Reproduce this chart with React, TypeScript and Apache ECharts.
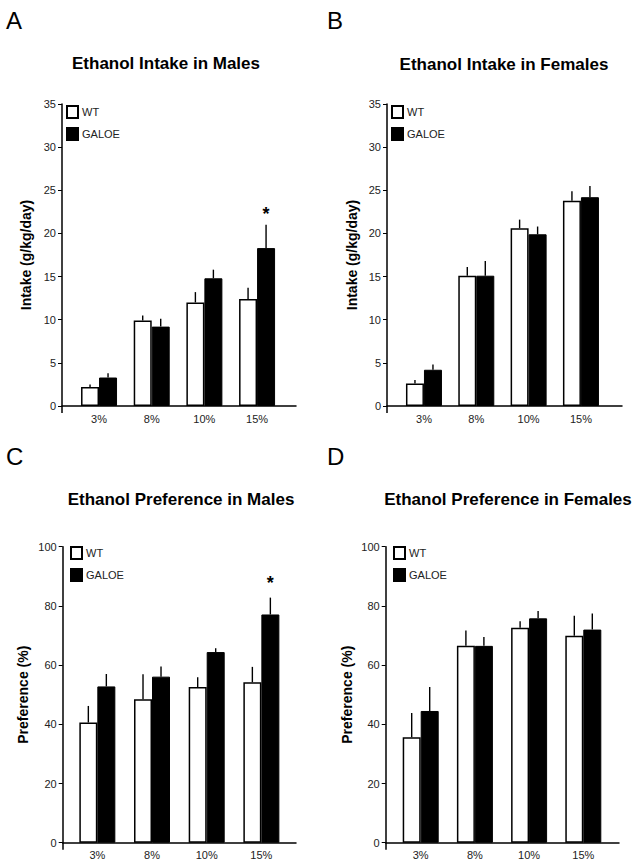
import React, { useEffect, useRef } from 'react';
import * as echarts from 'echarts';

// ---------- data ----------
const categories = ['3%', '8%', '10%', '15%'];
const seriesNames = ['WT', 'GALOE'];

// A: Ethanol Intake in Males (g/kg/day)
const intakeMalesWT = [2.2, 9.9, 12.0, 12.4];
const intakeMalesWTSem = [0.3, 0.6, 1.2, 1.3];
const intakeMalesGALOE = [3.3, 9.2, 14.8, 18.3];
const intakeMalesGALOESem = [0.5, 0.9, 1.0, 2.7];
const intakeMalesSig = ['', '', '', '*'];

// B: Ethanol Intake in Females (g/kg/day)
const intakeFemalesWT = [2.6, 15.1, 20.6, 23.8];
const intakeFemalesWTSem = [0.4, 1.0, 1.0, 1.1];
const intakeFemalesGALOE = [4.2, 15.1, 19.9, 24.2];
const intakeFemalesGALOESem = [0.6, 1.7, 0.9, 1.3];
const intakeFemalesSig = ['', '', '', ''];

// C: Ethanol Preference in Males (%)
const prefMalesWT = [40.6, 48.5, 52.6, 54.2];
const prefMalesWTSem = [5.6, 8.4, 3.3, 5.2];
const prefMalesGALOE = [52.8, 56.1, 64.4, 77.1];
const prefMalesGALOESem = [4.2, 3.4, 1.3, 5.7];
const prefMalesSig = ['', '', '', '*'];

// D: Ethanol Preference in Females (%)
const prefFemalesWT = [35.6, 66.5, 72.6, 69.9];
const prefFemalesWTSem = [8.2, 5.2, 2.2, 6.8];
const prefFemalesGALOE = [44.5, 66.5, 75.8, 72.0];
const prefFemalesGALOESem = [8.1, 3.0, 2.5, 5.4];
const prefFemalesSig = ['', '', '', ''];

const intakeTicks = { min: 0, max: 35, interval: 5 };
const prefTicks = { min: 0, max: 100, interval: 20 };

// ---------- layout / style ----------
const FONT = "'Liberation Sans', Arial, Helvetica, sans-serif";
const BAR_W = 18;

const panels = [
  {
    letter: 'A', title: 'Ethanol Intake in Males', yName: 'Intake (g/kg/day)', ticks: intakeTicks,
    wt: intakeMalesWT, wtSem: intakeMalesWTSem, ga: intakeMalesGALOE, gaSem: intakeMalesGALOESem, sig: intakeMalesSig,
    L: { letterX: 6, letterY: 20.5, titleX: 166, titleY: 63.5, axisX: 62, axisEnd: 296, top: 104, bottom: 406, barLeft: 72.7, barW: 210.7, nameGap: 29, legendX: 66, legendY: 105, sigGap: 11 },
  },
  {
    letter: 'B', title: 'Ethanol Intake in Females', yName: 'Intake (g/kg/day)', ticks: intakeTicks,
    wt: intakeFemalesWT, wtSem: intakeFemalesWTSem, ga: intakeFemalesGALOE, gaSem: intakeFemalesGALOESem, sig: intakeFemalesSig,
    L: { letterX: 327, letterY: 20.5, titleX: 504, titleY: 64, axisX: 387, axisEnd: 622, top: 104, bottom: 406, barLeft: 397.8, barW: 209.3, nameGap: 28, legendX: 391, legendY: 105, sigGap: 11 },
  },
  {
    letter: 'C', title: 'Ethanol Preference in Males', yName: 'Preference (%)', ticks: prefTicks,
    wt: prefMalesWT, wtSem: prefMalesWTSem, ga: prefMalesGALOE, gaSem: prefMalesGALOESem, sig: prefMalesSig,
    L: { letterX: 6, letterY: 456, titleX: 181, titleY: 499, axisX: 62.7, axisEnd: 296, top: 546.7, bottom: 842.7, barLeft: 70, barW: 218.7, nameGap: 32.7, legendX: 70, legendY: 546, sigGap: 15 },
  },
  {
    letter: 'D', title: 'Ethanol Preference in Females', yName: 'Preference (%)', ticks: prefTicks,
    wt: prefFemalesWT, wtSem: prefFemalesWTSem, ga: prefFemalesGALOE, gaSem: prefFemalesGALOESem, sig: prefFemalesSig,
    L: { letterX: 327, letterY: 456, titleX: 508, titleY: 499, axisX: 385.7, axisEnd: 619, top: 546.7, bottom: 842.7, barLeft: 393.6, barW: 216.8, nameGap: 31.7, legendX: 393, legendY: 546, sigGap: 15 },
  },
];

function errRender(sign: number) {
  return (params: any, api: any) => {
    const base = api.coord([api.value(0), api.value(1)]);
    const tip = api.coord([api.value(0), api.value(2)]);
    const x = base[0] + (sign * BAR_W) / 2;
    return {
      type: 'line',
      shape: { x1: x, y1: base[1], x2: x, y2: tip[1] },
      style: { stroke: '#000', lineWidth: 1.4 },
    };
  };
}

function sigRender(gap: number) {
  return (params: any, api: any) => {
    const p = api.coord([api.value(0), api.value(1)]);
    return {
      type: 'text',
      x: p[0] + BAR_W / 2,
      y: p[1] - gap,
      style: {
        text: '*',
        font: `bold 18px ${FONT}`,
        fill: '#000',
        textAlign: 'center',
        textVerticalAlign: 'middle',
      },
    };
  };
}

function buildOption() {
  const grid: any[] = [];
  const xAxis: any[] = [];
  const yAxis: any[] = [];
  const series: any[] = [];
  const legend: any[] = [];
  const graphic: any[] = [];
  const n = panels.length;

  panels.forEach((p, i) => {
    const L = p.L;
    const h = L.bottom - L.top;
    grid[i] = { left: L.barLeft, top: L.top, width: L.barW, height: h };
    grid[n + i] = { left: L.axisX, top: L.top, width: L.axisEnd - L.axisX, height: h };

    xAxis[i] = {
      type: 'category', gridIndex: i, data: categories,
      axisLine: { show: false }, axisTick: { show: false },
      axisLabel: { fontFamily: FONT, fontSize: 11, color: '#222', margin: 7 },
    };
    xAxis[n + i] = {
      type: 'value', gridIndex: n + i, min: 0, max: 1, z: 10,
      axisLine: { show: true, lineStyle: { color: '#000', width: 1.5 } },
      axisTick: { show: true, customValues: [0], length: 7, lineStyle: { color: '#000', width: 1.5 } },
      axisLabel: { show: false }, splitLine: { show: false },
    };
    yAxis[i] = {
      type: 'value', gridIndex: i, min: p.ticks.min, max: p.ticks.max, interval: p.ticks.interval, show: false,
    };
    yAxis[n + i] = {
      type: 'value', gridIndex: n + i, min: p.ticks.min, max: p.ticks.max, interval: p.ticks.interval, z: 10,
      name: p.yName, nameLocation: 'middle', nameGap: L.nameGap,
      nameTextStyle: { fontFamily: FONT, fontSize: 14, fontWeight: 'bold', color: '#000' },
      axisLine: { show: true, lineStyle: { color: '#000', width: 1.5 } },
      axisTick: { show: true, length: 4, lineStyle: { color: '#000', width: 1 } },
      axisLabel: { fontFamily: FONT, fontSize: 11, color: '#222', margin: 6 },
      splitLine: { show: false },
    };

    series.push({
      name: seriesNames[0], type: 'bar', xAxisIndex: i, yAxisIndex: i, barWidth: BAR_W, barGap: '0%',
      itemStyle: { color: '#fff', borderColor: '#000', borderWidth: 1.5 },
      data: p.wt,
    });
    series.push({
      name: seriesNames[1], type: 'bar', xAxisIndex: i, yAxisIndex: i, barWidth: BAR_W, barGap: '0%',
      itemStyle: { color: '#000', borderColor: '#000', borderWidth: 1 },
      data: p.ga,
    });
    series.push({
      name: 'WT SEM', type: 'custom', xAxisIndex: i, yAxisIndex: i, z: 3,
      renderItem: errRender(-1),
      data: p.wt.map((v, k) => [k, v, v + p.wtSem[k]]),
    });
    series.push({
      name: 'GALOE SEM', type: 'custom', xAxisIndex: i, yAxisIndex: i, z: 3,
      renderItem: errRender(1),
      data: p.ga.map((v, k) => [k, v, v + p.gaSem[k]]),
    });
    const sigData = p.sig
      .map((s, k) => (s ? [k, p.ga[k] + p.gaSem[k]] : null))
      .filter((d) => d !== null);
    if (sigData.length) {
      series.push({
        name: 'significance', type: 'custom', xAxisIndex: i, yAxisIndex: i, z: 4,
        renderItem: sigRender(L.sigGap), data: sigData,
      });
    }

    legend.push({
      data: seriesNames, left: L.legendX, top: L.legendY, orient: 'vertical',
      icon: 'rect', itemWidth: 11, itemHeight: 12, itemGap: 8, padding: 0,
      selectedMode: false,
      textStyle: { fontFamily: FONT, fontSize: 11, color: '#222', padding: [0, 0, 0, -1] },
    });

    graphic.push({
      type: 'text', x: L.letterX, y: L.letterY,
      style: { text: p.letter, font: `24px ${FONT}`, fill: '#000', textAlign: 'left', textVerticalAlign: 'middle' },
    });
    graphic.push({
      type: 'text', x: L.titleX, y: L.titleY,
      style: { text: p.title, font: `bold 17px ${FONT}`, fill: '#000', textAlign: 'center', textVerticalAlign: 'middle' },
    });
  });

  return {
    animation: false,
    backgroundColor: '#fff',
    textStyle: { fontFamily: FONT },
    grid, xAxis, yAxis, series, legend, graphic,
  };
}

export default function App() {
  const ref = useRef<HTMLDivElement>(null);
  useEffect(() => {
    if (!ref.current) return;
    const chart = echarts.init(ref.current, null, { renderer: 'svg', width: 640, height: 867 });
    chart.setOption(buildOption() as any);
    return () => chart.dispose();
  }, []);
  return (
    <div
      ref={ref}
      style={{ position: 'absolute', left: 0, top: 0, width: 640, height: 867, background: '#fff' }}
    />
  );
}
